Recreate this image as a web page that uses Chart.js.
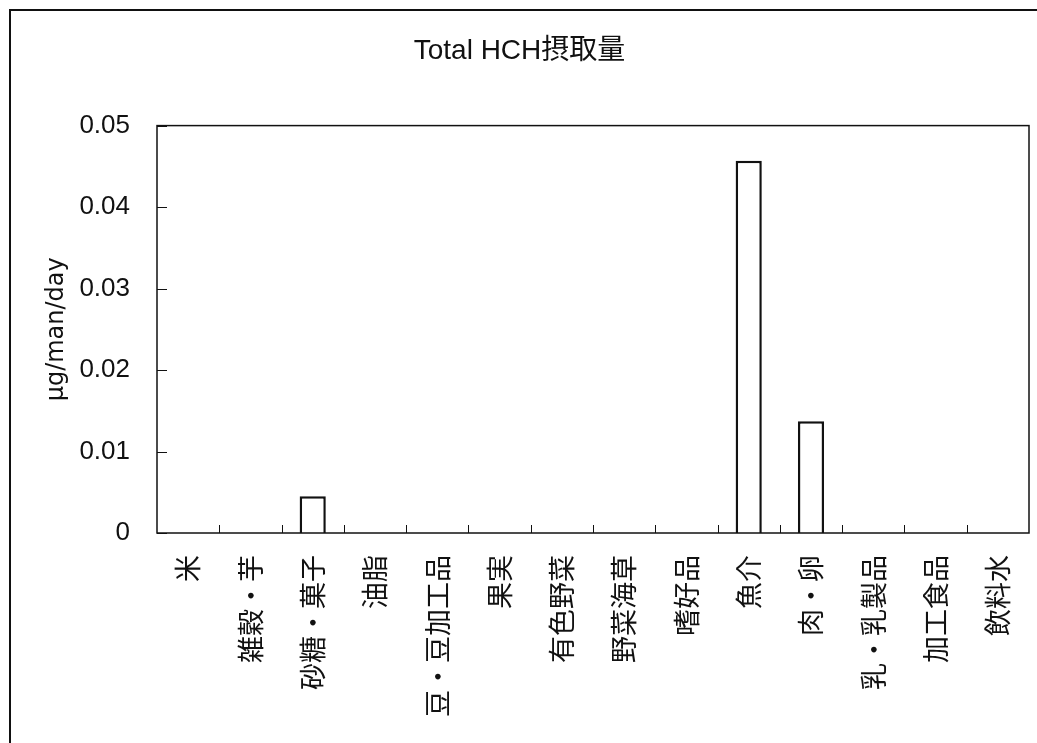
<!DOCTYPE html>
<html>
<head>
<meta charset="utf-8">
<script src="https://cdn.jsdelivr.net/npm/chart.js@4/dist/chart.umd.min.js"></script>
<style>
  html, body { margin: 0; padding: 0; background: #fff; }
  canvas { display: block; }
</style>
</head>
<body>
<canvas id="c" width="1037" height="743"></canvas>
<script>
// Food groups (total diet study) and their Total HCH intake, μg/man/day
const categories = ['米', '雑穀・芋', '砂糖・菓子', '油脂', '豆・豆加工品', '果実', '有色野菜',
                    '野菜海草', '嗜好品', '魚介', '肉・卵', '乳・乳製品', '加工食品', '飲料水'];
const intake = [0, 0, 0.0045, 0, 0, 0, 0, 0, 0, 0.0457, 0.0137, 0, 0, 0];
const yTickValues = [0, 0.01, 0.02, 0.03, 0.04, 0.05];
const yTickLabels = ['0', '0.01', '0.02', '0.03', '0.04', '0.05'];

const titleText = 'Total HCH摂取量';
const yTitleText = 'μg/man/day';

const latinFont = '"Liberation Sans", Arial, "Noto Sans CJK JP", sans-serif';
const wideFont = '"DejaVu Sans", "Liberation Sans", sans-serif';
const cjkFont = '"Noto Sans CJK JP", "Liberation Sans", sans-serif';

// Frame around the page, box around the plot, and inward-pointing ticks
const framePlugin = {
  id: 'frame',
  afterDraw(chart) {
    const { ctx, chartArea: a, scales } = chart;
    const x = scales.x, y = scales.y;
    ctx.save();
    ctx.strokeStyle = '#111';

    // outer border of the sheet
    ctx.lineWidth = 2;
    ctx.strokeRect(10, 10, 1100, 800);

    // plot box
    ctx.lineWidth = 1.5;
    ctx.strokeRect(a.left, a.top, a.right - a.left, a.bottom - a.top);

    // category boundary ticks on the x axis
    ctx.lineWidth = 1;
    ctx.beginPath();
    for (let i = 1; i < categories.length; i++) {
      const px = Math.round((x.getPixelForValue(i - 1) + x.getPixelForValue(i)) / 2) + 0.5;
      ctx.moveTo(px, a.bottom);
      ctx.lineTo(px, a.bottom - 8);
    }
    // value ticks on the y axis
    yTickValues.forEach(v => {
      const py = Math.round(y.getPixelForValue(v)) + 0.5;
      ctx.moveTo(a.left, py);
      ctx.lineTo(a.left + 10, py);
    });
    ctx.stroke();
    ctx.restore();
  }
};

new Chart(document.getElementById('c'), {
  type: 'bar',
  data: {
    labels: categories,
    datasets: [{
      data: intake,
      backgroundColor: '#ffffff',
      borderColor: '#111111',
      borderWidth: 2.5,
      borderSkipped: 'bottom',
      categoryPercentage: 1,
      barPercentage: 0.42
    }]
  },
  options: {
    responsive: false,
    animation: false,
    devicePixelRatio: 1,
    layout: { padding: { left: 10, right: 8, top: 0, bottom: 0 } },
    plugins: {
      legend: { display: false },
      tooltip: { enabled: false },
      title: {
        display: true,
        text: titleText,
        color: '#111',
        font: { family: latinFont, size: 28, weight: 'normal' },
        padding: { top: 34, bottom: 58 }
      }
    },
    scales: {
      x: {
        type: 'category',
        offset: true,
        grid: { display: false, drawTicks: false },
        border: { display: false },
        ticks: {
          autoSkip: false,
          minRotation: 90,
          maxRotation: 90,
          padding: 22,
          color: '#111',
          font: { family: cjkFont, size: 27 }
        },
        afterFit(scale) {
          scale.height = 210;
          scale.paddingLeft = 0;
          scale.paddingRight = 0;
        }
      },
      y: {
        min: 0,
        max: 0.05,
        afterBuildTicks(scale) {
          scale.ticks = yTickValues.map(v => ({ value: v }));
        },
        grid: { display: false, drawTicks: false },
        border: { display: false },
        ticks: {
          padding: 27,
          color: '#111',
          font: { family: latinFont, size: 26 },
          callback(value) {
            const i = yTickValues.indexOf(value);
            return i >= 0 ? yTickLabels[i] : '';
          }
        },
        title: {
          display: true,
          text: yTitleText,
          color: '#111',
          font: { family: wideFont, size: 24 },
          padding: { top: 32, bottom: 0 }
        },
        afterFit(scale) { scale.width = 147; }
      }
    }
  },
  plugins: [framePlugin]
});
</script>
</body>
</html>
